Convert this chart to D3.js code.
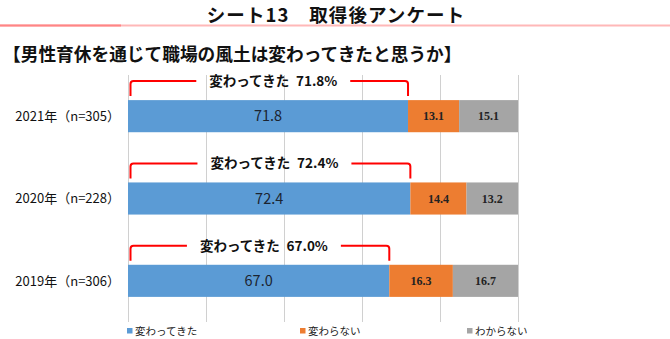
<!DOCTYPE html>
<html><head><meta charset="utf-8">
<script src="https://cdn.jsdelivr.net/npm/d3@7"></script>
<style>
body{margin:0;background:#fff;}
text{font-family:"Noto Sans CJK JP","Noto Sans",sans-serif;}
</style></head>
<body><svg id="c" width="670" height="339"></svg>
<script>
const categories = ["2021年（n=305）", "2020年（n=228）", "2019年（n=306）"];
const seriesNames = ["変わってきた", "変わらない", "わからない"];
const changed = [71.8, 72.4, 67.0];
const unchanged = [13.1, 14.4, 16.3];
const unknown = [15.1, 13.2, 16.7];
const xTicks = [0, 20, 40, 60, 80, 100];
const title = "シート13　取得後アンケート";
const subtitle = "【男性育休を通じて職場の風土は変わってきたと思うか】";
const colors = ["#5B9BD5", "#ED7D31", "#A5A5A5"];

const svg = d3.select("#c");
const rows = categories.map((c, i) => ({cat: c, "変わってきた": changed[i], "変わらない": unchanged[i], "わからない": unknown[i]}));

// title
svg.append("text").attr("x", 336).attr("y", 21.8).attr("text-anchor", "middle")
  .attr("font-size", 18.5).attr("letter-spacing", 1.1).attr("font-weight", "bold").attr("fill", "#111").text(title);
svg.append("line").attr("x1", 0).attr("x2", 670).attr("y1", 25.5).attr("y2", 25.5)
  .attr("stroke", "#ffb8b8").attr("stroke-width", 2);
svg.append("line").attr("x1", 0).attr("x2", 121).attr("y1", 25.5).attr("y2", 25.5)
  .attr("stroke", "#ff8585").attr("stroke-width", 2);
svg.append("text").attr("x", 3).attr("y", 61)
  .attr("font-size", 17.7).attr("font-weight", "bold").attr("fill", "#111").text(subtitle);

const x = d3.scaleLinear().domain([0, 100]).range([128, 518]);
const y = d3.scaleBand().domain(categories).range([75, 322]).paddingInner(0.61).paddingOuter(0.305);

// gridlines
svg.append("g").selectAll("line").data(xTicks).join("line")
  .attr("x1", d => x(d) + 0.5).attr("x2", d => x(d) + 0.5)
  .attr("y1", 75).attr("y2", 322)
  .attr("stroke", "#d0d0d0").attr("stroke-width", 1);

const stack = d3.stack().keys(seriesNames)(rows);
const g = svg.append("g");
stack.forEach((s, si) => {
  g.selectAll(null).data(s).join("rect")
    .attr("x", d => x(d[0])).attr("width", d => x(d[1]) - x(d[0]))
    .attr("y", d => y(d.data.cat)).attr("height", y.bandwidth())
    .attr("fill", colors[si]);
  g.selectAll(null).data(s).join("text")
    .attr("x", d => (x(d[0]) + x(d[1])) / 2)
    .attr("y", d => y(d.data.cat) + y.bandwidth() / 2)
    .attr("dy", "0.36em").attr("text-anchor", "middle")
    .attr("font-size", si === 0 ? 14.5 : 12)
    .attr("font-weight", si === 0 ? "normal" : "bold")
    .style("font-family", si === 0 ? null : "'Liberation Serif','DejaVu Serif',serif")
    .attr("fill", si === 0 ? "#1b2430" : "#222")
    .text(d => (d[1] - d[0]).toFixed(1));
});

// category labels
svg.append("g").selectAll("text").data(categories).join("text")
  .attr("x", 120).attr("y", d => y(d) + y.bandwidth() / 2).attr("dy", "0.36em")
  .attr("text-anchor", "end").attr("font-size", 13).attr("fill", "#111").text(d => d);

// callouts
const ann = svg.append("g");
rows.forEach((r, i) => {
  const top = y(r.cat) - 19;
  const x0 = x(0) + 2.5, x1 = x(changed[i]);
  const cx = (x0 + x1) / 2 + 4;
  const t = ann.append("text").attr("x", cx).attr("y", top).attr("dy", "0.36em")
    .attr("text-anchor", "middle").attr("font-size", 13.5).attr("font-weight", "bold").attr("fill", "#111")
    .text(seriesNames[0] + "\u2002" + changed[i].toFixed(1) + "%");
  const w = t.node().getComputedTextLength();
  const gl = cx - w / 2 - 13, gr = cx + w / 2 + 13;
  const bottom = top + 15, rr = 3;
  ann.append("path").attr("fill", "none").attr("stroke", "#ff0000").attr("stroke-width", 2)
    .attr("d", `M${x0},${bottom} L${x0},${top + rr} Q${x0},${top} ${x0 + rr},${top} L${gl},${top}`);
  ann.append("path").attr("fill", "none").attr("stroke", "#ff0000").attr("stroke-width", 2)
    .attr("d", `M${gr},${top} L${x1 - rr},${top} Q${x1},${top} ${x1},${top + rr} L${x1},${bottom}`);
});

// legend
const legX = [127, 300, 467];
const leg = svg.append("g");
seriesNames.forEach((n, i) => {
  leg.append("rect").attr("x", legX[i]).attr("y", 328).attr("width", 5.5).attr("height", 5.5).attr("fill", colors[i]);
  leg.append("text").attr("x", legX[i] + 8).attr("y", 331).attr("dy", "0.36em")
    .attr("font-size", 10.5).attr("fill", "#222").text(n);
});
</script></body></html>
